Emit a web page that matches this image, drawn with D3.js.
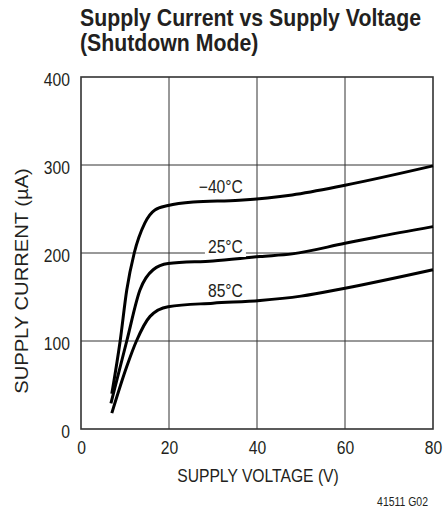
<!DOCTYPE html>
<html>
<head>
<meta charset="utf-8">
<script src="https://cdn.jsdelivr.net/npm/d3@7"></script>
<style>
  html, body { margin: 0; padding: 0; background: #fff; }
  svg { display: block; }
  text { font-family: "Liberation Sans", Arial, sans-serif; fill: #231f20; }
</style>
</head>
<body>
<svg id="chart" width="447" height="510"></svg>
<script>
// ---- data ----
const titleLines = ["Supply Current vs Supply Voltage", "(Shutdown Mode)"];
const xLabel = "SUPPLY VOLTAGE (V)";
const yLabel = "SUPPLY CURRENT (\u00B5A)";
const footnote = "41511 G02";
const xTicks = [0, 20, 40, 60, 80];
const yTicks = [0, 100, 200, 300, 400];

const seriesNames = ["\u221240\u00B0C", "25\u00B0C", "85\u00B0C"];
const voltsM40 = [7, 8.9, 10.4, 12.1, 14.5, 16.8, 19.8, 25.5, 36, 48, 60, 80];
const currM40  = [40, 100, 158, 200, 234, 249, 254, 258, 260, 266, 277, 299];
const volts25  = [6.8, 10.4, 13.4, 16.4, 19.8, 30, 40.7, 48, 60, 67, 80];
const curr25   = [29, 100, 158, 181, 188, 191, 196, 199, 211, 218, 230];
const volts85  = [7, 10.4, 12.6, 15.7, 19.8, 30, 40.7, 50, 60, 80];
const curr85   = [18, 71, 100, 128, 139, 143, 146, 151, 160, 181];
// label anchor (right end, baseline) in data units
const labelV = [36.8, 36.8, 36.8];
const labelI = [268, 200, 150];

// ---- layout ----
const svg = d3.select("#chart");
const pL = 81, pR = 433, pT = 77, pB = 429;
const x = d3.scaleLinear().domain([0, 80]).range([pL, pR]);
const y = d3.scaleLinear().domain([0, 400]).range([pB, pT]);
const condH = 0.87;   // horizontal condensing of regular text
const condV = 1.12;   // rotated label

function squeeze(sel, f) {
  sel.each(function () {
    const w = this.getComputedTextLength();
    d3.select(this).attr("textLength", w * f).attr("lengthAdjust", "spacingAndGlyphs");
  });
}

// title
const tg = svg.append("g");
const titleEls = titleLines.map((t, i) => tg.append("text")
  .attr("x", 80).attr("y", 26 + i * 25)
  .attr("font-size", 24).attr("font-weight", "bold")
  .text(t));
const condT = 341 / titleEls[0].node().getComputedTextLength();
titleEls.forEach(e => squeeze(e, condT));

// grid
svg.append("g").selectAll("line").data(xTicks.slice(1, -1)).join("line")
  .attr("x1", d => x(d)).attr("x2", d => x(d)).attr("y1", pT).attr("y2", pB)
  .attr("stroke", "#333").attr("stroke-width", 1);
svg.append("g").selectAll("line").data(yTicks.slice(1, -1)).join("line")
  .attr("x1", pL).attr("x2", pR).attr("y1", d => y(d)).attr("y2", d => y(d))
  .attr("stroke", "#333").attr("stroke-width", 1);

// axes (labels only)
const xAxis = svg.append("g").attr("transform", `translate(0,${pB})`)
  .call(d3.axisBottom(x).tickValues(xTicks).tickSize(0).tickPadding(12));
const yAxis = svg.append("g").attr("transform", `translate(${pL},0)`)
  .call(d3.axisLeft(y).tickValues(yTicks).tickSize(0).tickPadding(11));
[xAxis, yAxis].forEach(a => {
  a.select(".domain").remove();
  a.attr("font-family", null).attr("font-size", null);
  a.selectAll("text").attr("font-size", 18).style("fill", "#231f20");
  squeeze(a.selectAll("text"), condH);
});
yAxis.selectAll("text").attr("dy", "0.45em");
xAxis.selectAll("text").attr("dy", "0.7em");

// frame
svg.append("rect").attr("x", pL).attr("y", pT)
  .attr("width", pR - pL).attr("height", pB - pT)
  .attr("fill", "none").attr("stroke", "#333").attr("stroke-width", 1.6);

// curves
const line = d3.line().x(d => x(d[0])).y(d => y(d[1])).curve(d3.curveMonotoneX);
const series = [
  d3.zip(voltsM40, currM40),
  d3.zip(volts25, curr25),
  d3.zip(volts85, curr85)
];
svg.append("g").selectAll("path").data(series).join("path")
  .attr("d", line).attr("fill", "none").attr("stroke", "#000")
  .attr("stroke-width", 3).attr("stroke-linecap", "butt");

// series labels
const lg = svg.append("g");
seriesNames.forEach((n, i) => {
  const t = lg.append("text")
    .attr("x", x(labelV[i])).attr("y", y(labelI[i]))
    .attr("text-anchor", "end").attr("font-size", 18).text(n);
  squeeze(t, condH);
  if (i === 1) {
    const bb = t.node().getBBox();
    lg.insert("rect", "text").attr("x", bb.x - 3).attr("y", bb.y)
      .attr("width", bb.width + 6).attr("height", bb.height).attr("fill", "#fff");
  }
});

// axis titles
const xl = svg.append("text").attr("x", (pL + pR) / 2 + 1).attr("y", 482)
  .attr("text-anchor", "middle").attr("font-size", 18).text(xLabel);
squeeze(xl, condH);
const yl = svg.append("text").attr("transform", "translate(28,281) rotate(-90)")
  .attr("text-anchor", "middle").attr("font-size", 18).text(yLabel);
squeeze(yl, condV);
const fn = svg.append("text").attr("x", 428).attr("y", 506)
  .attr("text-anchor", "end").attr("font-size", 12).text(footnote);
squeeze(fn, condH);
</script>
</body>
</html>
